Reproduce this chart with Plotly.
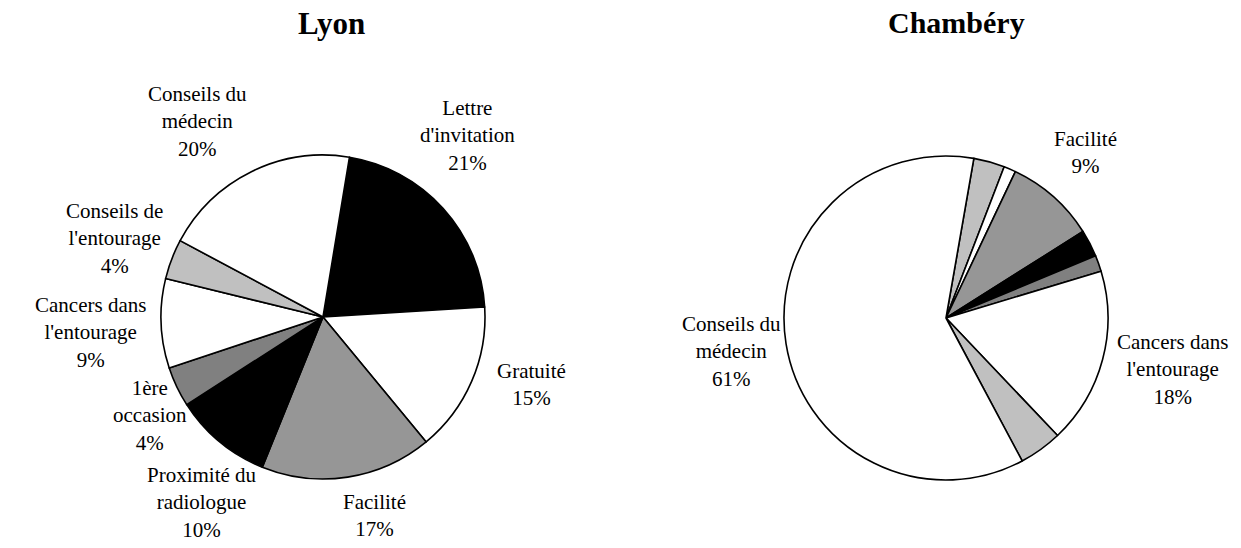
import math
import plotly.graph_objects as go

# ---- Data ----
categories = ["Lettre d'invitation", "Gratuité", "Facilité", "Proximité du radiologue",
              "1ère occasion", "Cancers dans l'entourage", "Conseils de l'entourage",
              "Conseils du médecin"]
lyon_values = [21.4, 15.0, 17.1, 9.8, 4.0, 8.9, 4.0, 19.8]
chambery_values = [3.1, 1.2, 9.0, 2.7, 1.6, 17.6, 4.3, 60.6]

# label text (with line breaks as in the original); empty = no label shown
lyon_labels = ["Lettre<br>d'invitation", "Gratuité", "Facilité", "Proximité du<br>radiologue",
               "1ère<br>occasion", "Cancers dans<br>l'entourage", "Conseils de<br>l'entourage",
               "Conseils du<br>médecin"]
chambery_labels = ["", "", "Facilité", "", "", "Cancers dans<br>l'entourage", "",
                   "Conseils du<br>médecin"]

titles = ["Lyon", "Chambéry"]

# ---- Styles / layout ----
lyon_colors = ["#000000", "#FFFFFF", "#969696", "#000000", "#808080", "#FFFFFF", "#C0C0C0", "#FFFFFF"]
chambery_colors = ["#C0C0C0", "#FFFFFF", "#969696", "#000000", "#808080", "#FFFFFF", "#C0C0C0", "#FFFFFF"]

# label placement relative to slice mid-angle: (angle nudge in degrees, distance in px)
lyon_label_pos = [(-9.5, 232), (-5.6, 219), (-5.9, 205), (-6.5, 222),
                  (-4.0, 199), (-1.4, 233), (-0.2, 223), (-6.5, 232)]
chambery_label_pos = [(0, 0), (0, 0), (-1.4, 216), (0, 0), (0, 0), (-2.1, 232), (0, 0), (0.1, 217)]

W, H = 1241, 548
FONT = "Times New Roman, Liberation Serif, serif"
R = 162
pies = [
    dict(values=lyon_values, labels=lyon_labels, colors=lyon_colors, rot=9.4,
         center=(323, 317), lpos=lyon_label_pos, title=titles[0], tx=331, tsize=31),
    dict(values=chambery_values, labels=chambery_labels, colors=chambery_colors, rot=9.9,
         center=(946, 318), lpos=chambery_label_pos, title=titles[1], tx=956, tsize=30),
]

fig = go.Figure()

for p in pies:
    cx, cy = p["center"]
    fig.add_trace(go.Pie(
        values=p["values"], labels=categories, sort=False, direction="clockwise",
        rotation=p["rot"],
        marker=dict(colors=p["colors"], line=dict(color="#000000", width=1.6)),
        textinfo="none", hoverinfo="label+percent", showlegend=False,
        domain=dict(x=[(cx - R) / W, (cx + R) / W], y=[(H - cy - R) / H, (H - cy + R) / H]),
    ))
    # data labels: placed around the slice mid-angle computed from the values
    total = sum(p["values"])
    start = p["rot"]
    for v, lab, (dth, dist) in zip(p["values"], p["labels"], p["lpos"]):
        span = v / total * 360.0
        mid = start + span / 2.0
        start += span
        if not lab:
            continue
        a = math.radians(mid + dth)
        lx = cx + dist * math.sin(a)
        ly = cy - dist * math.cos(a)
        pct = round(v / total * 100)
        fig.add_annotation(text=f"{lab}<br>{pct}%", x=lx / W, y=1 - ly / H,
                           xref="paper", yref="paper", xanchor="center", yanchor="middle",
                           align="center", showarrow=False,
                           font=dict(family=FONT, size=21, color="#000000"))
    fig.add_annotation(text=f"<b>{p['title']}</b>", x=p["tx"] / W, y=1 - 4 / H,
                       xref="paper", yref="paper", xanchor="center", yanchor="top",
                       showarrow=False, font=dict(family=FONT, size=p["tsize"], color="#000000"))

fig.update_layout(
    width=W, height=H, margin=dict(l=0, r=0, t=0, b=0),
    paper_bgcolor="#FFFFFF", plot_bgcolor="#FFFFFF",
    font=dict(family=FONT, color="#000000"),
)

fig.write_html("out.html")
